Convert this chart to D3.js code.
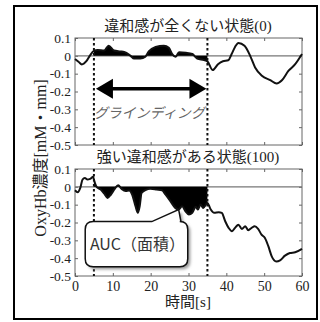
<!DOCTYPE html>
<html><head><meta charset="utf-8">
<script src="https://cdn.jsdelivr.net/npm/d3@7"></script>
<style>
html,body{margin:0;padding:0;background:#fff;}
svg{display:block;}
</style></head>
<body><svg id="c" width="320" height="322"></svg>
<script>
const titles = ["違和感が全くない状態(0)", "強い違和感がある状態(100)"];
const yLabel = "OxyHb濃度[mM・mm]";
const xLabel = "時間[s]";
const xTicks = [0, 10, 20, 30, 40, 50, 60];
const yTicks = [0.1, 0, -0.1, -0.2, -0.3, -0.4, -0.5];
const yTickLabels = ["0.1", "0", "-0.1", "-0.2", "-0.3", "-0.4", "-0.5"];
const grindStart = 5, grindEnd = 35;
const grindLabel = "グラインディング";
const aucLabel = "AUC（面積）";

const topT = [0, 1, 1.8, 3, 3.9, 5, 6, 7.7, 8.9, 10.3, 12, 13, 14.7, 15.6, 17.3, 18.6, 19.5, 21.3, 23.5, 24.8, 25.7, 26.6, 27.5, 29.3, 31, 32.3, 34.1, 35, 36.4, 37.8, 39.1, 40.5, 41.4, 42.3, 43.2, 44.8, 46.3, 47.6, 49.4, 51.6, 53.3, 54.7, 56.4, 58.2, 60];
const topV = [-0.018, -0.035, -0.048, -0.03, 0.0, 0.028, 0.033, 0.03, 0.056, 0.03, 0.025, 0.022, 0.0, -0.015, -0.015, -0.005, 0.025, 0.05, 0.057, 0.045, 0.01, -0.005, 0.02, 0.017, 0.01, -0.015, -0.024, -0.031, -0.08, -0.047, -0.03, -0.025, 0.01, 0.05, 0.072, 0.056, 0.0, -0.065, -0.112, -0.136, -0.155, -0.137, -0.085, -0.047, 0.01];

const botT = [0, 0.7, 1.4, 2, 2.6, 3.3, 4, 4.8, 5, 5.7, 6.8, 7.7, 8.6, 9.5, 10.5, 11.4, 12.3, 13.4, 14.3, 15.1, 16.0, 16.6, 17.1, 17.6, 18.6, 19.9, 21.6, 23, 23.9, 25.2, 26.5, 27.4, 28.3, 29.2, 30.1, 31, 31.9, 32.5, 33.2, 33.9, 35, 35.8, 36.8, 38, 38.8, 39.7, 40.6, 41.5, 42.3, 43.2, 44.1, 45, 45.8, 46.7, 47.5, 48.4, 49.3, 50.2, 51.1, 52, 53.2, 54.2, 55.5, 56.8, 58.2, 60];
const botV = [-0.019, -0.03, -0.006, 0.041, 0.05, 0.041, 0.045, 0.056, 0.041, 0.0, -0.015, -0.037, -0.062, -0.043, -0.011, 0.009, -0.011, -0.024, -0.02, -0.043, -0.109, -0.146, -0.109, -0.034, -0.019, -0.011, -0.015, -0.019, -0.043, -0.08, -0.118, -0.127, -0.109, -0.137, -0.155, -0.146, -0.112, -0.127, -0.099, -0.118, -0.09, -0.124, -0.146, -0.142, -0.146, -0.193, -0.23, -0.249, -0.23, -0.212, -0.236, -0.221, -0.243, -0.23, -0.221, -0.236, -0.268, -0.287, -0.333, -0.39, -0.418, -0.412, -0.386, -0.371, -0.367, -0.348];

const serif = "'Liberation Serif','Noto Sans CJK JP',serif";
const svg = d3.select("#c");

// outer border
svg.append("rect").attr("x", 14).attr("y", 6).attr("width", 303).attr("height", 313)
  .attr("fill", "none").attr("stroke", "#000").attr("stroke-width", 2);

const x = d3.scaleLinear().domain([0, 60]).range([75, 302]);
const panels = [
  {t: topT, v: topV, top: 38, bottom: 145, title: titles[0]},
  {t: botT, v: botV, top: 169, bottom: 276, title: titles[1]}
];

const defs = svg.append("defs");
const f = defs.append("filter").attr("id", "sh").attr("x", "-20%").attr("y", "-20%").attr("width", "140%").attr("height", "140%");
f.append("feGaussianBlur").attr("stdDeviation", 1.5);

panels.forEach((p, i) => {
  const y = d3.scaleLinear().domain([-0.5, 0.1]).range([p.bottom, p.top]);
  p.y = y;
  const g = svg.append("g");
  const data = p.t.map((t, k) => ({t, v: p.v[k]}));

  // frame
  g.append("rect").attr("x", x(0)).attr("y", y(0.1)).attr("width", x(60) - x(0)).attr("height", y(-0.5) - y(0.1))
    .attr("fill", "none").attr("stroke", "#666").attr("stroke-width", 1);

  // axes
  const ax = g.append("g").attr("transform", `translate(0,${y(-0.5)})`)
    .call(d3.axisBottom(x).tickValues(xTicks).tickSizeInner(-3).tickSizeOuter(0).tickPadding(5).tickFormat(i === 1 ? d3.format("d") : () => ""));
  ax.select(".domain").remove();
  ax.selectAll("line").attr("stroke", "#666");
  ax.selectAll("text").attr("font-family", serif).attr("font-size", 14).attr("fill", "#222");
  const axt = g.append("g").attr("transform", `translate(0,${y(0.1)})`)
    .call(d3.axisTop(x).tickValues(xTicks).tickSizeInner(-3).tickSizeOuter(0).tickFormat(() => ""));
  axt.select(".domain").remove(); axt.selectAll("line").attr("stroke", "#666");

  const ay = g.append("g").attr("transform", `translate(${x(0)},0)`)
    .call(d3.axisLeft(y).tickValues(yTicks).tickSizeInner(-3).tickSizeOuter(0).tickPadding(4)
      .tickFormat((d, k) => yTickLabels[k]));
  ay.select(".domain").remove();
  ay.selectAll("line").attr("stroke", "#666");
  ay.selectAll("text").attr("font-family", serif).attr("font-size", 13.5).attr("fill", "#222");
  const ayr = g.append("g").attr("transform", `translate(${x(60)},0)`)
    .call(d3.axisRight(y).tickValues(yTicks).tickSizeInner(-3).tickSizeOuter(0).tickFormat(() => ""));
  ayr.select(".domain").remove(); ayr.selectAll("line").attr("stroke", "#666");

  // zero line
  g.append("line").attr("x1", x(0)).attr("x2", x(60)).attr("y1", y(0)).attr("y2", y(0))
    .attr("stroke", "#777").attr("stroke-width", 1.3);

  // AUC fill
  const sub = data.filter(d => d.t >= grindStart && d.t <= grindEnd);
  g.append("path").datum(sub)
    .attr("d", d3.area().x(d => x(d.t)).y0(y(0)).y1(d => y(d.v)).curve(d3.curveMonotoneX))
    .attr("fill", "#000");

  // line
  g.append("path").datum(data)
    .attr("d", d3.line().x(d => x(d.t)).y(d => y(d.v)).curve(d3.curveMonotoneX))
    .attr("fill", "none").attr("stroke", "#111").attr("stroke-width", 2);

  // dashed verticals
  [grindStart, grindEnd].forEach(t => {
    g.append("line").attr("x1", x(t)).attr("x2", x(t)).attr("y1", y(0.1)).attr("y2", y(-0.5))
      .attr("stroke", "#111").attr("stroke-width", 2).attr("stroke-dasharray", "2.5,2.5");
  });

  // title
  svg.append("text").attr("x", 188).attr("y", p.top - 7).attr("text-anchor", "middle")
    .attr("font-family", serif).attr("font-size", 15).attr("fill", "#222").text(p.title);
});

// top annotation: arrow
{
  const y = panels[0].y;
  const ay = y(-0.185);
  const x1 = x(grindStart) + 2, x2 = x(grindEnd) - 1;
  const hw = 17, hh = 10;
  svg.append("line").attr("x1", x1 + hw - 2).attr("x2", x2 - hw + 2).attr("y1", ay).attr("y2", ay)
    .attr("stroke", "#000").attr("stroke-width", 3.5);
  svg.append("path").attr("d", `M${x1},${ay}L${x1 + hw},${ay - hh}L${x1 + hw},${ay + hh}Z`).attr("fill", "#000");
  svg.append("path").attr("d", `M${x2},${ay}L${x2 - hw},${ay - hh}L${x2 - hw},${ay + hh}Z`).attr("fill", "#000");
  svg.append("text").attr("x", x(19.6)).attr("y", y(-0.32) + 5).attr("text-anchor", "middle")
    .attr("font-family", "'Noto Sans CJK JP',sans-serif").attr("font-size", 14).attr("font-style", "italic")
    .attr("fill", "#666").text(grindLabel);
}

// bottom annotation: callout
{
  const y = panels[1].y;
  const L = x(2.7), R = x(29.8), T = y(-0.195), B = y(-0.448), r = 8;
  const pl = x(20.3), tipX = x(27.4), tipY = y(-0.128), pr = x(28.0);
  const d = `M${L + r},${T}L${pl},${T}L${tipX},${tipY}L${pr},${T}L${R - r},${T}Q${R},${T} ${R},${T + r}` +
    `L${R},${B - r}Q${R},${B} ${R - r},${B}L${L + r},${B}Q${L},${B} ${L},${B - r}L${L},${T + r}Q${L},${T} ${L + r},${T}Z`;
  svg.append("path").attr("d", d).attr("fill", "#999").attr("transform", "translate(2.5,2.5)").attr("filter", "url(#sh)");
  svg.append("path").attr("d", d).attr("fill", "#fff").attr("stroke", "#111").attr("stroke-width", 1.5);
  svg.append("text").attr("x", (L + R) / 2 + 1).attr("y", (T + B) / 2 + 6).attr("text-anchor", "middle")
    .attr("font-family", "'Noto Sans CJK JP',sans-serif").attr("font-size", 16).attr("fill", "#333").text(aucLabel);
}

// axis labels
svg.append("text").attr("transform", "translate(46,158) rotate(-90)").attr("text-anchor", "middle")
  .attr("font-family", serif).attr("font-size", 16).attr("fill", "#222").text(yLabel);
svg.append("text").attr("x", 188).attr("y", 307).attr("text-anchor", "middle")
  .attr("font-family", serif).attr("font-size", 15).attr("fill", "#222").text(xLabel);
</script></body></html>
